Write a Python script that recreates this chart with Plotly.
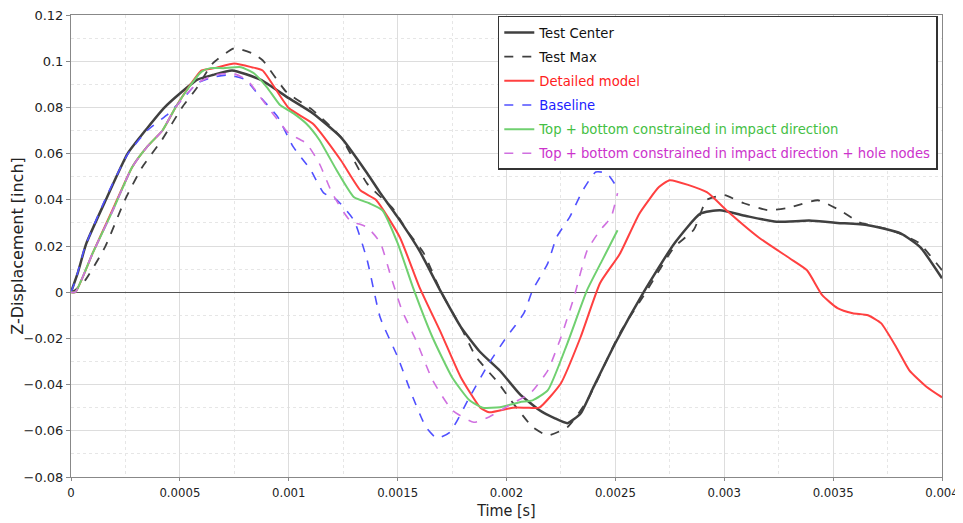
import plotly.graph_objects as go

# Test Center
t_center = [0, 0.00003, 0.00007, 0.00016, 0.00026, 0.00035, 0.00043, 0.0005, 0.00058, 0.00065,
            0.00074, 0.00087, 0.001, 0.00111, 0.00124, 0.00136, 0.00142, 0.0015, 0.0016, 0.0017,
            0.00179, 0.00188, 0.00197, 0.00206, 0.00215, 0.00222, 0.00228, 0.00234, 0.0024, 0.0025,
            0.00263, 0.00277, 0.00289, 0.00298, 0.0031, 0.00324, 0.00339, 0.00352, 0.00366, 0.00381,
            0.0039, 0.004]
y_center = [0, 0.008, 0.021, 0.040, 0.060, 0.071, 0.080, 0.086, 0.092, 0.094,
            0.096, 0.092, 0.084, 0.0775, 0.067, 0.0515, 0.043, 0.0325, 0.018, 0.0,
            -0.015, -0.026, -0.034, -0.044, -0.051, -0.0545, -0.0567, -0.0525, -0.041, -0.022,
            0.0, 0.021, 0.034, 0.0355, 0.033, 0.0305, 0.031, 0.030, 0.029, 0.0255,
            0.0195, 0.006]

# Test Max
t_max = [0, 0.00002, 0.000064, 0.000156, 0.000248, 0.000326, 0.000418, 0.00051, 0.00058, 0.00065,
         0.00075, 0.00083, 0.00088, 0.00099, 0.00111, 0.00124, 0.00136, 0.00148, 0.00154, 0.00162,
         0.0017, 0.00179, 0.00186, 0.00196, 0.00203, 0.00212, 0.00219, 0.00228, 0.00237, 0.00252,
         0.00264, 0.00277, 0.00286, 0.00292, 0.003, 0.00309, 0.0032, 0.00329, 0.00343, 0.00353,
         0.00362, 0.00376, 0.00389, 0.004]
y_max = [0, 0.001, 0.005, 0.0195, 0.040, 0.054, 0.066, 0.080, 0.0887, 0.099,
         0.1056, 0.1035, 0.1004, 0.0866, 0.0788, 0.067, 0.047, 0.036, 0.027, 0.0169,
         0.0, -0.015, -0.028, -0.039, -0.048, -0.0584, -0.062, -0.0584, -0.047, -0.0178,
         0.0, 0.0195, 0.027, 0.040, 0.042, 0.0385, 0.0355, 0.0364, 0.0398, 0.0355,
         0.0303, 0.027, 0.0216, 0.0095]

# Detailed model
t_detail = [0, 0.00002, 0.0001, 0.00019, 0.00028, 0.00035, 0.00042, 0.00048, 0.00054, 0.0006,
            0.00066, 0.00075, 0.00083, 0.00088, 0.001, 0.00111, 0.00124, 0.00133, 0.0014, 0.00151,
            0.0016, 0.0017, 0.00179, 0.00188, 0.00192, 0.00203, 0.00209, 0.00215, 0.00225, 0.00234,
            0.00243, 0.00252, 0.00261, 0.0027, 0.00275, 0.00292, 0.00301, 0.00316, 0.0033, 0.00338,
            0.00345, 0.00352, 0.00359, 0.00366, 0.00372, 0.00379, 0.00385, 0.00393, 0.004]
y_detail = [0, 0, 0.017, 0.0355, 0.054, 0.063, 0.070, 0.080, 0.0887, 0.096,
            0.097, 0.099, 0.0974, 0.096, 0.0797, 0.073, 0.057, 0.044, 0.040, 0.0238,
            0.0022, -0.0178, -0.0368, -0.050, -0.052, -0.050, -0.050, -0.050, -0.0394, -0.0195,
            0.004, 0.0165, 0.034, 0.0455, 0.0485, 0.0433, 0.0355, 0.0236, 0.0147, 0.0095,
            -0.0013, -0.0069, -0.0091, -0.010, -0.0134, -0.0238, -0.0338, -0.041, -0.0455]

# Baseline
t_base = [0, 0.00002, 0.000064, 0.000156, 0.000262, 0.00035, 0.00045, 0.00052, 0.00058, 0.00065,
          0.00072, 0.0008, 0.00087, 0.00095, 0.00102, 0.0011, 0.00116, 0.00122, 0.0013, 0.00136,
          0.00142, 0.0015, 0.00157, 0.00163, 0.00168, 0.00174, 0.00183, 0.00192, 0.002, 0.00208,
          0.00212, 0.00219, 0.00223, 0.00229, 0.00235, 0.00241, 0.00246, 0.00251]
y_base = [0, 0.005, 0.0195, 0.040, 0.060, 0.070, 0.0775, 0.0844, 0.0905, 0.093,
          0.094, 0.092, 0.0844, 0.0758, 0.063, 0.053, 0.043, 0.040, 0.031, 0.0139,
          -0.011, -0.028, -0.0455, -0.0584, -0.0632, -0.0606, -0.0455, -0.0307, -0.0195, -0.0091,
          0.0009, 0.0126, 0.0238, 0.0325, 0.044, 0.052, 0.0515, 0.045]

# Top + bottom constrained in impact direction
t_top = [0, 0.00002, 0.0001, 0.00019, 0.00028, 0.00035, 0.00042, 0.00048, 0.00054, 0.0006,
         0.00064, 0.0007, 0.00078, 0.00084, 0.0009, 0.00096, 0.00102, 0.00108, 0.00114, 0.00122,
         0.0013, 0.00137, 0.00143, 0.0015, 0.00157, 0.00166, 0.00175, 0.00183, 0.00189, 0.00197,
         0.00206, 0.00212, 0.00219, 0.00228, 0.00237, 0.00244, 0.00251]
y_top = [0, 0, 0.017, 0.035, 0.054, 0.063, 0.070, 0.080, 0.0885, 0.0955,
         0.097, 0.097, 0.0974, 0.0948, 0.0887, 0.081, 0.0775, 0.073, 0.066, 0.0528,
         0.0411, 0.0385, 0.0355, 0.0212, 0.0022, -0.0195, -0.0368, -0.0468, -0.050, -0.0498,
         -0.0476, -0.0468, -0.0424, -0.022, 0.0009, 0.0139, 0.0268]

# Top + bottom constrained in impact direction + hole nodes
t_hole = [0, 0.00002, 0.0001, 0.00019, 0.00028, 0.00035, 0.00042, 0.00048, 0.00058, 0.00066,
          0.00074, 0.00081, 0.00087, 0.00095, 0.001, 0.00108, 0.00114, 0.0012, 0.00128, 0.00136,
          0.00142, 0.00147, 0.00152, 0.00159, 0.00166, 0.00175, 0.00185, 0.00192, 0.00203, 0.00211,
          0.00219, 0.00225, 0.00231, 0.00237, 0.00243, 0.00248, 0.00251]
y_hole = [0, 0, 0.017, 0.035, 0.054, 0.063, 0.070, 0.080, 0.0905, 0.094,
          0.0948, 0.0918, 0.0844, 0.0745, 0.0688, 0.0645, 0.0558, 0.0428, 0.0312, 0.0281,
          0.0215, 0.0065, -0.0078, -0.022, -0.038, -0.051, -0.0563, -0.054, -0.048, -0.0437,
          -0.0338, -0.0195, -0.0022, 0.018, 0.0268, 0.0325, 0.0429]

DARK = '#404040'


def nome(texto, cor):
    return f"<span style='color:{cor}'>{texto}</span>"


fig = go.Figure()

series = [
    (t_center, y_center, nome('Test Center', '#111111'), DARK, 'solid', 2.5),
    (t_max, y_max, nome('Test Max', '#111111'), DARK, 'dash', 1.8),
    (t_detail, y_detail, nome('Detailed model', '#ff2020'), '#ff4040', 'solid', 2),
    (t_base, y_base, nome('Baseline', '#2020ff'), '#5050ff', 'dash', 1.6),
    (t_top, y_top, nome('Top + bottom constrained in impact direction', '#44c044'), '#70d070', 'solid', 2),
    (t_hole, y_hole, nome('Top + bottom constrained in impact direction + hole nodes', '#cc33cc'),
     '#d070e0', 'dash', 1.6),
]

for i, (t, y, nm, cor, dash, w) in enumerate(series):
    fig.add_trace(go.Scatter(
        x=t, y=y, mode='lines', name=nm, legendgroup=str(i),
        line=dict(color=cor, dash=dash, width=w, shape='spline', smoothing=0.5)
    ))

# a página tem 8px de margem no body: compensar no tamanho e nas margens
fig.update_layout(
    width=955, height=515,
    margin=dict(l=63, r=21, t=7, b=46),
    plot_bgcolor='white',
    paper_bgcolor='white',
    font=dict(family='DejaVu Sans', size=13, color='#222222'),
    legend=dict(
        x=0.49, y=0.998, xanchor='left', yanchor='top',
        bgcolor='white', bordercolor='#333333', borderwidth=1.5,
        font=dict(size=13.2), tracegroupgap=4, traceorder='grouped'
    ),
    xaxis=dict(
        range=[0, 0.004], dtick=0.0005, tick0=0,
        tickformat='~g', automargin=False, ticklabeloverflow='allow',
        showgrid=True, gridcolor='#dddddd', gridwidth=1,
        minor=dict(dtick=0.00025, showgrid=True, gridcolor='#e6e6e6', griddash='dot'),
        showline=True, linecolor='#888888', linewidth=1, mirror=True,
        zeroline=False,
        title=dict(text='Time [s]', font=dict(family='DejaVu Sans Condensed', size=16), standoff=6),
        tickfont=dict(family='DejaVu Sans Condensed', size=13),
        ticks='outside', ticklen=3, tickcolor='#888888'
    ),
    yaxis=dict(
        range=[-0.08, 0.12], dtick=0.02, tick0=0,
        tickformat='~g', automargin=False, ticklabeloverflow='allow',
        showgrid=True, gridcolor='#dddddd', gridwidth=1,
        minor=dict(dtick=0.01, showgrid=True, gridcolor='#e6e6e6', griddash='dot'),
        showline=True, linecolor='#888888', linewidth=1, mirror=True,
        zeroline=True, zerolinecolor='#555555', zerolinewidth=1,
        title=dict(text='Z-Displacement [inch]', font=dict(size=16), standoff=6),
        ticks='outside', ticklen=4, tickcolor='#888888'
    ),
)

fig.write_html("out.html")
